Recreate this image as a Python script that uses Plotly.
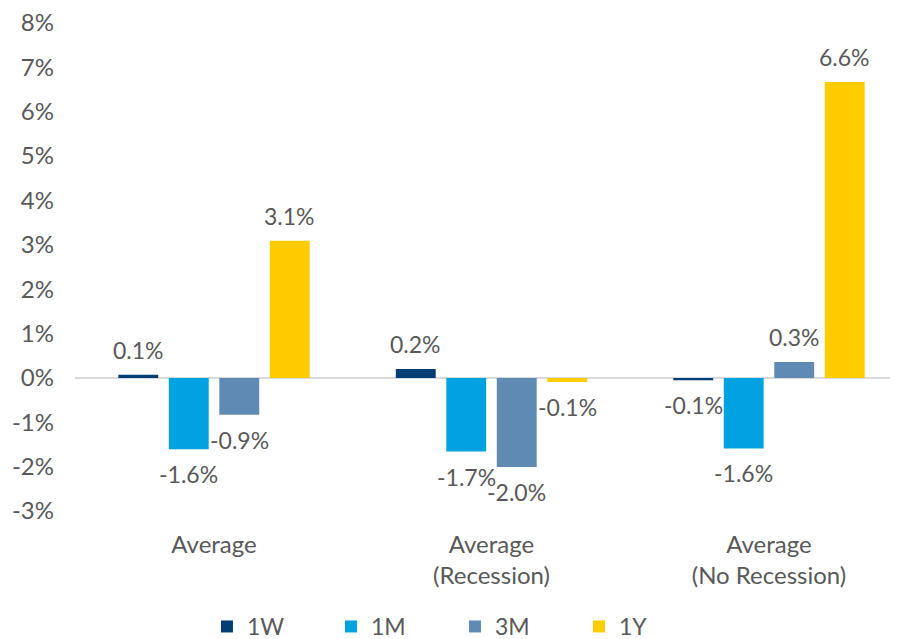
import plotly.graph_objects as go

categories = ["Average", "Average<br>(Recession)", "Average<br>(No Recession)"]
series_names = ["1W", "1M", "3M", "1Y"]
values_1w = [0.07, 0.2, -0.05]
values_1m = [-1.61, -1.66, -1.59]
values_3m = [-0.83, -2.01, 0.36]
values_1y = [3.09, -0.09, 6.67]
labels_1w = ["0.1%", "0.2%", "-0.1%"]
labels_1m = ["-1.6%", "-1.7%", "-1.6%"]
labels_3m = ["-0.9%", "-2.0%", "0.3%"]
labels_1y = ["3.1%", "-0.1%", "6.6%"]
y_ticks = list(range(-3, 9))
y_tick_labels = [f"{t}%" for t in y_ticks]

colors = ["#023E74", "#00A3E0", "#5E8AB4", "#FFCC00"]
all_values = [values_1w, values_1m, values_3m, values_1y]
all_labels = [labels_1w, labels_1m, labels_3m, labels_1y]

FONT = "Lato"
TXT = "#595959"
BARGAP = 0.272
BARGROUPGAP = 0.21

fig = go.Figure()
for name, vals, col in zip(series_names, all_values, colors):
    fig.add_trace(go.Bar(
        x=list(range(len(categories))), y=vals, name=name,
        marker=dict(color=col, line=dict(width=0)),
        hoverinfo="skip",
    ))

slot = (1 - BARGAP) / len(series_names)
annotations = []
for i, (vals, labs) in enumerate(zip(all_values, all_labels)):
    for j, (v, lab) in enumerate(zip(vals, labs)):
        pos = v >= 0
        annotations.append(dict(
            x=j + (i - 1.5) * slot, y=v, xref="x", yref="y",
            text=lab, showarrow=False,
            yanchor="bottom" if pos else "top",
            yshift=9 if pos else -9,
            font=dict(family=FONT, size=23, color=TXT),
        ))

fig.update_layout(
    width=890, height=631,
    margin=dict(l=67, r=0, t=14.5, b=127.5),
    paper_bgcolor="white", plot_bgcolor="white",
    barmode="group", bargap=BARGAP, bargroupgap=BARGROUPGAP,
    font=dict(family=FONT, size=24, color=TXT),
    showlegend=True,
    legend=dict(
        orientation="h", x=0.5022, xanchor="center", xref="container",
        y=0.0198, yanchor="middle", yref="container",
        font=dict(family=FONT, size=23, color=TXT),
        entrywidth=79, entrywidthmode="pixels",
        itemclick=False,
    ),
    annotations=annotations,
    xaxis=dict(
        tickmode="array", tickvals=list(range(len(categories))), ticktext=categories,
        range=[-0.501, 2.465], showgrid=False, zeroline=False, showline=False,
        ticks="", ticklabelstandoff=17, automargin=False,
        tickfont=dict(family=FONT, size=24, color=TXT),
    ),
    yaxis=dict(
        range=[-3, 8], tickmode="array", tickvals=y_ticks, ticktext=y_tick_labels,
        showgrid=False, zeroline=True, zerolinecolor="#D9D9D9", zerolinewidth=2,
        showline=False, ticks="", ticklabelstandoff=20, automargin=False,
        ticklabeloverflow="allow",
        tickfont=dict(family=FONT, size=24, color=TXT),
    ),
)

fig.write_html("out.html")
